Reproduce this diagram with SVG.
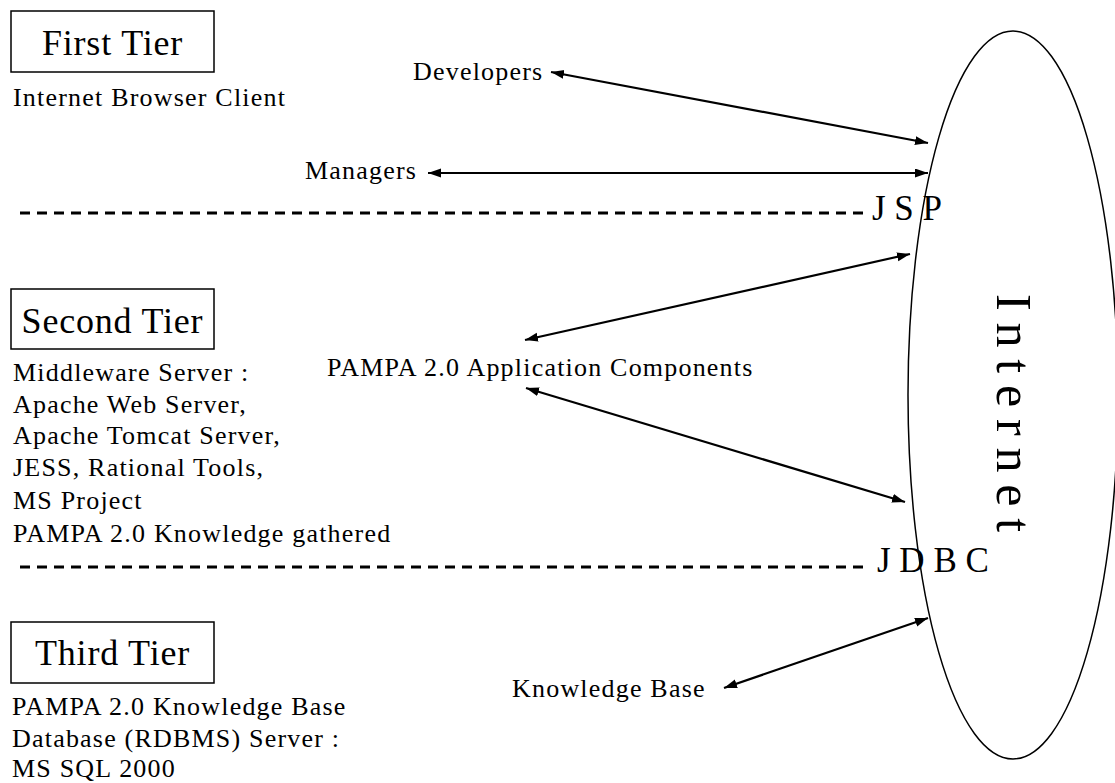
<svg xmlns="http://www.w3.org/2000/svg" width="1115" height="783" viewBox="0 0 1115 783">
<style>
.box{fill:#fff;stroke:#000;stroke-width:1.5}
.title{font-family:"Liberation Serif","Times New Roman",serif;font-size:36px;letter-spacing:0.8px;text-anchor:middle;fill:#000}
.t{font-family:"Liberation Serif","Times New Roman",serif;font-size:26px;letter-spacing:1.2px;fill:#000}
.big{font-family:"Liberation Serif","Times New Roman",serif;font-size:35px;fill:#000}
.dash{stroke:#000;stroke-width:3;stroke-dasharray:10 7;fill:none}
.arr{stroke:#000;stroke-width:2.2;fill:none;marker-start:url(#ah);marker-end:url(#ah)}
</style>
<defs>
<marker id="ah" markerWidth="14" markerHeight="10" refX="13" refY="4.5" orient="auto-start-reverse" markerUnits="userSpaceOnUse">
<path d="M0,0 L13,4.5 L0,9 z" fill="#000"/>
</marker>
</defs>
<rect width="1115" height="783" fill="#fff"/>

<g id="internet">
<ellipse cx="1013" cy="395" rx="105" ry="364" fill="none" stroke="#000" stroke-width="1.5"/>
<text class="big" style="font-size:50px;letter-spacing:11.8px" transform="translate(997,294) rotate(90)">Internet</text>
</g>

<g id="tier1">
<rect class="box" x="11" y="11" width="203" height="61"/>
<text class="title" x="112.5" y="55">First Tier</text>
<text class="t" x="13" y="106">Internet Browser Client</text>
</g>

<g id="tier2">
<rect class="box" x="11" y="289" width="203" height="60"/>
<text class="title" x="112.5" y="333">Second Tier</text>
<text class="t" x="13" y="381">Middleware Server :</text>
<text class="t" x="13" y="413">Apache Web Server,</text>
<text class="t" x="13" y="444">Apache Tomcat Server,</text>
<text class="t" x="13" y="476">JESS, Rational Tools,</text>
<text class="t" x="13" y="509">MS Project</text>
<text class="t" x="13" y="542">PAMPA 2.0 Knowledge gathered</text>
</g>

<g id="tier3">
<rect class="box" x="11" y="622" width="203" height="61"/>
<text class="title" x="112.5" y="665">Third Tier</text>
<text class="t" x="12" y="715">PAMPA 2.0 Knowledge Base</text>
<text class="t" x="12" y="747">Database (RDBMS) Server :</text>
<text class="t" x="12" y="777">MS SQL 2000</text>
</g>

<g id="developers"><text class="t" x="413" y="80">Developers</text></g>
<g id="managers"><text class="t" x="305" y="179">Managers</text></g>
<g id="components"><text class="t" x="327" y="376">PAMPA 2.0 Application Components</text></g>
<g id="knowledgebase"><text class="t" x="512" y="697">Knowledge Base</text></g>

<g id="separators">
<line class="dash" x1="20" y1="213" x2="870" y2="213"/>
<text class="big" x="872" y="220">J S P</text>
<line class="dash" x1="20" y1="567" x2="866" y2="567"/>
<text class="big" x="877" y="572">J D B C</text>
</g>

<g id="connectors">
<line class="arr" x1="551" y1="72" x2="928" y2="143"/>
<line class="arr" x1="428" y1="173" x2="928" y2="173"/>
<line class="arr" x1="525" y1="340" x2="910" y2="254"/>
<line class="arr" x1="526" y1="388" x2="905" y2="502"/>
<line class="arr" x1="724" y1="688" x2="928" y2="618"/>
</g>
</svg>
